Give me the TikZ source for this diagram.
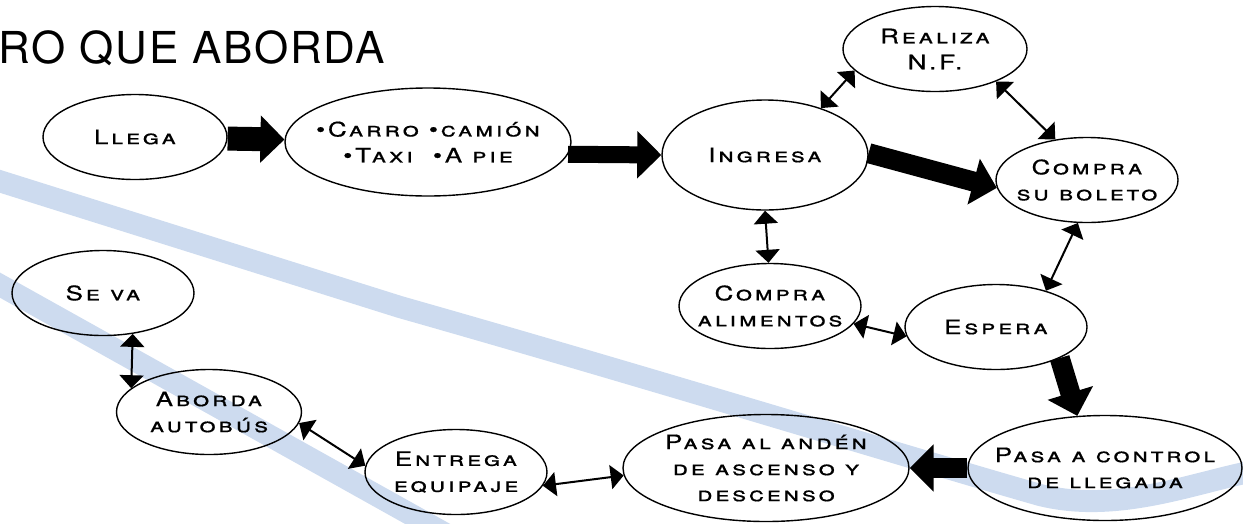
\documentclass[tikz,border=0pt]{standalone}
\usepackage{fontspec}
\setmainfont{TeX Gyre Heros}
\newfontfamily\etapafont[LetterSpace=14,FakeStretch=1.3,FakeBold=0.6]{TeX Gyre Heros}
\newfontfamily\titulofont[LetterSpace=4]{TeX Gyre Heros}
\usetikzlibrary{shapes.geometric,arrows.meta}
\definecolor{bandazul}{RGB}{205,219,239}
\tikzset{
  etapa/.style={draw, ellipse, line width=1.4pt, inner ysep=0pt, inner xsep=-14pt,
    minimum width=182pt, minimum height=85pt, align=center,
    font=\etapafont\fontsize{20}{26}\selectfont\scshape},
  flecha/.style={line width=#1, -{Triangle[length=24pt,width=46pt]}},
  flecha/.default=20pt,
  dobleflecha/.style={line width=2pt,
    {Triangle[length=13pt,width=24pt]}-{Triangle[length=13pt,width=24pt]}},
  banda/.style={line width=22pt, draw=bandazul, line cap=butt}
}
\begin{document}
\begin{tikzpicture}[x=1pt,y=-1pt]
			\useasboundingbox (0,0) rectangle (1243,523);
			
			% bandas de fondo
			\draw[banda] (-20,175) -- (400,307) .. controls (650,378) and (900,455) .. (1040,495) .. controls (1120,515) and (1200,480) .. (1260,470);
			\draw[banda] (-20,274) -- (460,542);
			
			\node[anchor=base west, font=\titulofont\fontsize{44}{44}\selectfont] (titulo) at (-5,63) {RO QUE ABORDA};
			
			\node[etapa, minimum width=184pt] (llega) at (135,137) {Llega};
			\node[etapa, minimum width=286pt, minimum height=108pt] (carro) at (428,142) {\textbullet Carro \textbullet camión\\\textbullet Taxi \ \textbullet A pie};
			\node[etapa, minimum width=206pt, minimum height=110pt] (ingresa) at (765,155) {Ingresa};
			\node[etapa, minimum width=184pt] (realiza) at (935,49) {Realiza\\N.F.};
			\node[etapa] (boleto) at (1087,180) {Compra\\su boleto};
			\node[etapa] (alimentos) at (770,306) {Compra\\alimentos};
			\node[etapa] (espera) at (996,327) {Espera};
			\node[etapa, minimum width=274pt, minimum height=105pt] (control) at (1105,468) {Pasa a control\\de llegada};
			\node[etapa, minimum width=286pt, minimum height=107pt] (anden) at (766,468) {Pasa al andén\\de ascenso y\\descenso};
			\node[etapa] (entrega) at (456,472) {Entrega\\equipaje};
			\node[etapa, minimum width=185pt] (aborda) at (209,412) {Aborda\\autobús};
			\node[etapa] (seva) at (103,293) {Se va};
			
			\draw[flecha=24pt] (llega) -- (carro);
			\draw[flecha=17pt] (carro.-5) -- (ingresa.west);
			\draw[flecha] (ingresa.1) -- (boleto.185);
			\draw[flecha] (espera.-26) -- (control.118);
			\draw[flecha] (control.west) -- (anden.east);
			
			\draw[dobleflecha] (ingresa.40) -- (realiza.195);
			\draw[dobleflecha] (realiza.-28) -- (boleto.128);
			\draw[dobleflecha] (ingresa.south) -- (alimentos.92);
			\draw[dobleflecha] (boleto.-102) -- (espera.36);
			\draw[dobleflecha] (alimentos.-12) -- (espera.186);
			\draw[dobleflecha] (seva.-54) -- (aborda.163);
			\draw[dobleflecha] (aborda.-7) -- (entrega.176);
			\draw[dobleflecha] (entrega.-9) -- (anden.183);
\end{tikzpicture}
\end{document}
